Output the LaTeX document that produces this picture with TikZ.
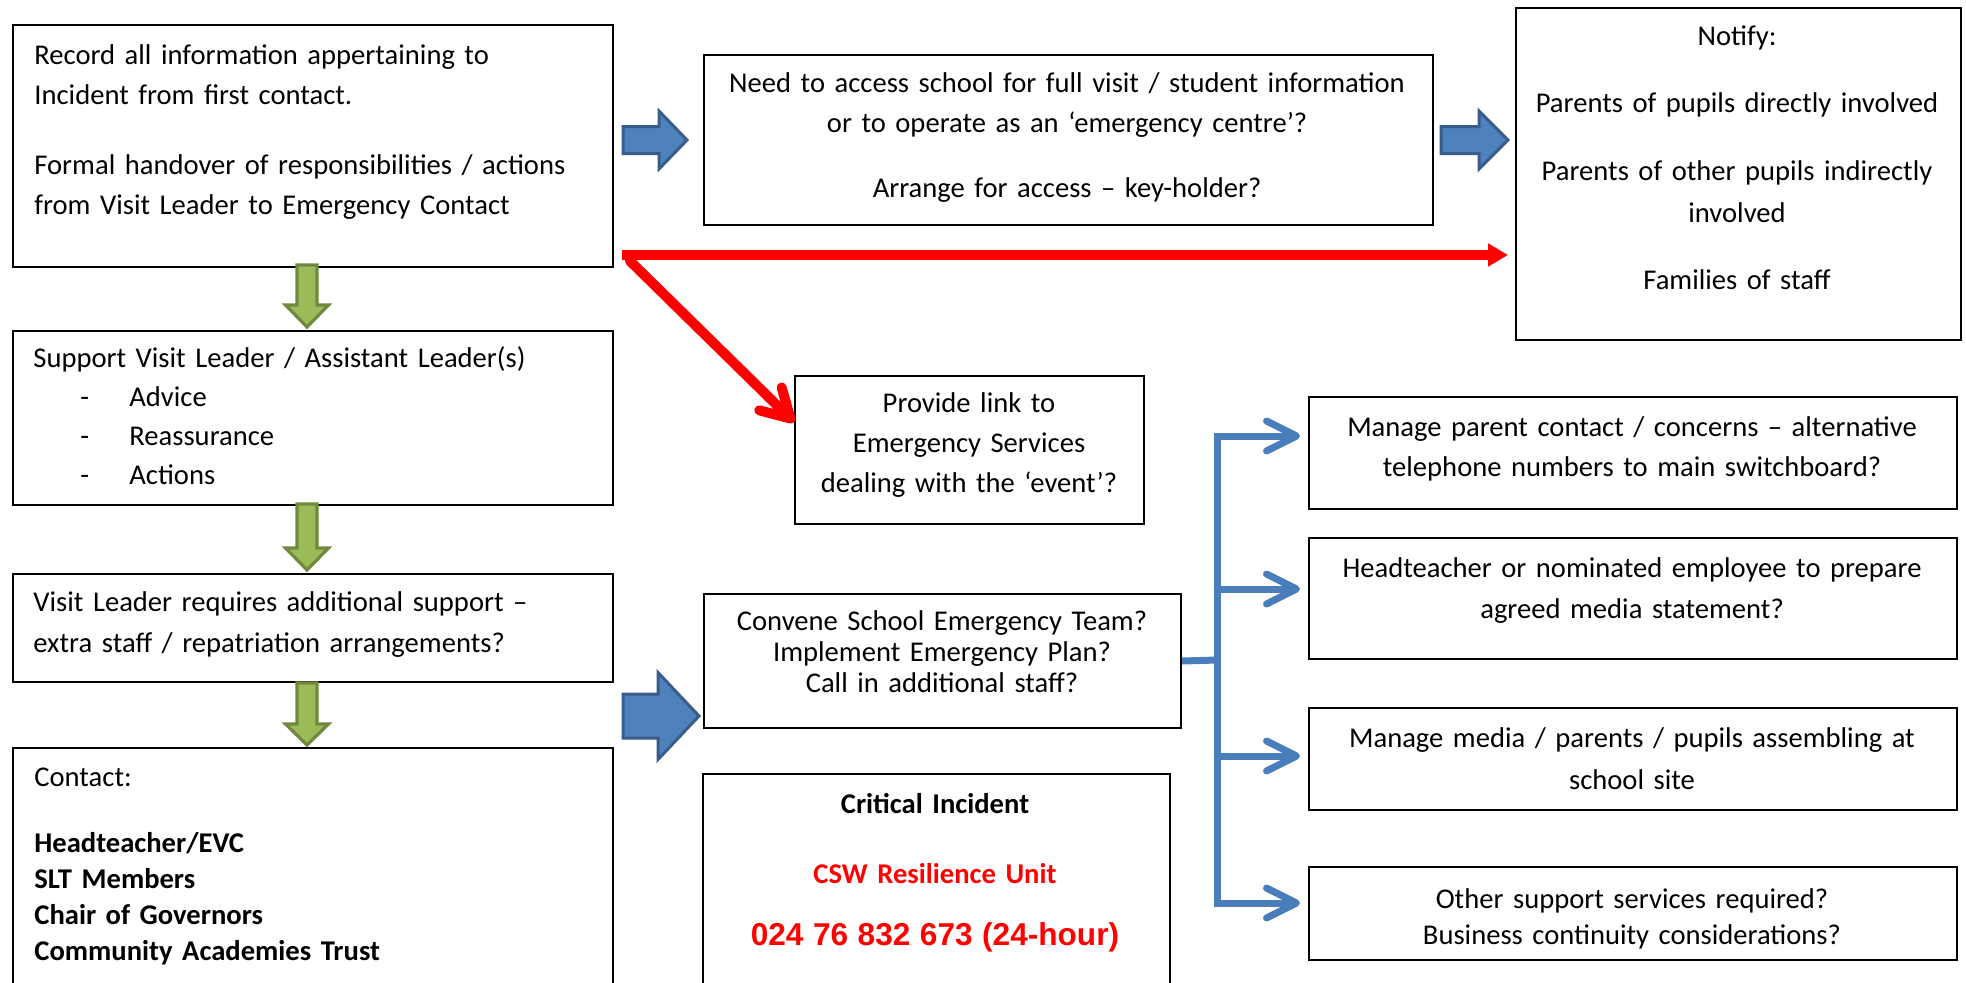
\documentclass[tikz,border=0pt]{standalone}
\usepackage{fontspec}
\setmainfont{Carlito}
\newfontfamily\arialfont{Liberation Sans}
\usetikzlibrary{arrows.meta,calc}
\definecolor{blockblue}{HTML}{4F81BD}
\definecolor{blockblueedge}{HTML}{385D8A}
\definecolor{blockgreen}{HTML}{9BBB59}
\definecolor{blockgreenedge}{HTML}{71893F}
\definecolor{connblue}{HTML}{4A7EBB}
\definecolor{alertred}{HTML}{FF0000}
% right-pointing block arrow: x0, xhead, xtip, yc, shaft half, head half
\newcommand{\rblock}[6]{\filldraw[bluearrowstyle] (#1,#4-#5) -- (#2,#4-#5) -- (#2,#4-#6) -- (#3,#4) -- (#2,#4+#6) -- (#2,#4+#5) -- (#1,#4+#5) -- cycle;}
% down-pointing block arrow: xc, y0, yhead, ytip, shaft half, head half
\newcommand{\dblock}[6]{\filldraw[greenarrowstyle] (#1-#5,#2) -- (#1-#5,#3) -- (#1-#6,#3) -- (#1,#4) -- (#1+#6,#3) -- (#1+#5,#3) -- (#1+#5,#2) -- cycle;}
\begin{document}
\begin{tikzpicture}[x=0.5pt,y=-0.5pt,
  framebox/.style={draw=black, line width=1pt, anchor=north west, inner sep=0pt},
  txt/.style={inner sep=0pt, font=\fontsize{14.3}{20}\selectfont},
  bluearrowstyle/.style={fill=blockblue, draw=blockblueedge, line width=1.5pt, line join=miter},
  greenarrowstyle/.style={fill=blockgreen, draw=blockgreenedge, line width=1.6pt, line join=miter},
  redthick/.style={draw=alertred, line width=5pt},
  conn/.style={draw=connblue, line width=3.5pt},
  connarrow/.style={conn, -{Straight Barb[length=15pt,width=15pt,round]}}
]
\useasboundingbox (0,0) rectangle (1966,982);
\clip (0,0) rectangle (1966,982);

% boxes
\node[framebox, minimum width=300pt, minimum height=121pt] (A) at (12,24) {};
\node[framebox, minimum width=364.5pt, minimum height=85pt] (B) at (703,54) {};
\node[framebox, minimum width=222.5pt, minimum height=166pt] (C) at (1515,7) {};
\node[framebox, minimum width=300pt, minimum height=87pt] (D) at (12,330) {};
\node[framebox, minimum width=174.5pt, minimum height=74pt] (E) at (794,375) {};
\node[framebox, minimum width=300pt, minimum height=54pt] (F) at (12,573) {};
\node[framebox, minimum width=238.5pt, minimum height=67pt] (G) at (703,593) {};
\node[framebox, minimum width=300pt, minimum height=130pt] (H) at (12,747) {};
\node[framebox, minimum width=233.5pt, minimum height=120pt] (I) at (702,773) {};
\node[framebox, minimum width=324pt, minimum height=56pt] (J) at (1308,396) {};
\node[framebox, minimum width=324pt, minimum height=60.5pt] (K) at (1308,537) {};
\node[framebox, minimum width=324pt, minimum height=51pt] (L) at (1308,707) {};
\node[framebox, minimum width=324pt, minimum height=46.5pt] (M) at (1308,866) {};

% texts
\node[txt, text width=288pt, align=left, anchor=base west] (At) at (34,64)
  {Record all information appertaining to\\Incident from first contact.\\[15pt]Formal handover of responsibilities / actions\\from Visit Leader to Emergency Contact};
\node[txt, text width=360pt, align=center, anchor=base] (Bt) at (1067,92)
  {Need to access school for full visit / student information\\or to operate as an ‘emergency centre’?\\[12.5pt]Arrange for access – key-holder?};
\node[txt, font=\fontsize{14.3}{21}\selectfont, text width=218pt, align=center, anchor=base] (Ct) at (1737,45)
  {Notify:\\[12.5pt]Parents of pupils directly involved\\[13pt]Parents of other pupils indirectly\\involved\\[12.5pt]Families of staff};
\node[txt, font=\fontsize{14.3}{19.5}\selectfont, text width=288pt, align=left, anchor=base west] (Dt) at (33,367)
  {Support Visit Leader / Assistant Leader(s)\\\makebox[48pt][l]{\hspace*{23.5pt}-}Advice\\\makebox[48pt][l]{\hspace*{23.5pt}-}Reassurance\\\makebox[48pt][l]{\hspace*{23.5pt}-}Actions};
\node[txt, text width=170pt, align=center, anchor=base] (Et) at (969,412)
  {Provide link to\\Emergency Services\\dealing with the ‘event’?};
\node[txt, font=\fontsize{14.3}{20.5}\selectfont, text width=288pt, align=left, anchor=base west] (Ft) at (33,611)
  {Visit Leader requires additional support –\\extra staff / repatriation arrangements?};
\node[txt, font=\fontsize{14.3}{15.5}\selectfont, text width=232pt, align=center, anchor=base] (Gt) at (942,630)
  {Convene School Emergency Team?\\Implement Emergency Plan?\\Call in additional staff?};
\node[txt, font=\fontsize{14.3}{18}\selectfont, text width=288pt, align=left, anchor=base west] (Ht) at (34,786)
  {Contact:\\[15pt]\textbf{Headteacher/EVC}\\\textbf{SLT Members}\\\textbf{Chair of Governors}\\\textbf{Community Academies Trust}};
\node[txt, font=\fontsize{14.3}{35}\selectfont, text width=232pt, align=center, anchor=base] (It) at (935,813)
  {\textbf{Critical Incident}\\\textcolor{alertred}{\textbf{CSW Resilience Unit}}\\[-4pt]{\arialfont\bfseries\fontsize{15.8}{35}\selectfont\textcolor{alertred}{024 76 832 673 (24-hour)}}};
\node[txt, text width=322pt, align=center, anchor=base] (Jt) at (1632,436)
  {Manage parent contact / concerns – alternative\\telephone numbers to main switchboard?};
\node[txt, font=\fontsize{14.3}{20.5}\selectfont, text width=322pt, align=center, anchor=base] (Kt) at (1632,577)
  {Headteacher or nominated employee to prepare\\agreed media statement?};
\node[txt, font=\fontsize{14.3}{21}\selectfont, text width=322pt, align=center, anchor=base] (Lt) at (1632,747)
  {Manage media / parents / pupils assembling at\\school site};
\node[txt, font=\fontsize{14.3}{18}\selectfont, text width=322pt, align=center, anchor=base] (Mt) at (1632,908)
  {Other support services required?\\Business continuity considerations?};

% block arrows
\rblock{623}{659}{687}{140}{13.5}{29}
\rblock{1441}{1479}{1508}{140}{13.5}{29}
\rblock{623}{658}{699}{716}{22}{43.5}
\dblock{307}{265}{305}{327}{10}{21.5}
\dblock{307}{504}{548}{570}{10}{21.5}
\dblock{307}{683}{724}{745}{10}{21.5}

% red connectors
\coordinate (rs) at (622,255);
\coordinate (rd) at (630,261);
\coordinate (eT) at ($(E.north west)+(0,47)$);
\draw[redthick, -{Triangle[length=10pt,width=11pt]}, shorten >=3.5pt] (rs) -- (rs -| C.west);
\draw[redthick, line cap=round, -{Straight Barb[length=14pt,width=16pt,round]}] (rd) -- (eT);

% blue branching connectors
\coordinate (tr) at (1217,660);
\coordinate (trTop) at (1217,436);
\coordinate (trBot) at (1217,903);
\draw[conn] (G.east) -- (tr);
\draw[conn] (trTop) -- (trBot);
\draw[connarrow] ($(trTop)+(-3.5,0)$) -- ($(trTop -| J.west)+(-8,0)$);
\draw[connarrow] (1213.5,589) -- ($(1213.5,589 -| K.west)+(-8,0)$);
\draw[connarrow] (1213.5,756) -- ($(1213.5,756 -| L.west)+(-8,0)$);
\draw[connarrow] ($(trBot)+(-3.5,0)$) -- ($(trBot -| M.west)+(-8,0)$);
\end{tikzpicture}
\end{document}
